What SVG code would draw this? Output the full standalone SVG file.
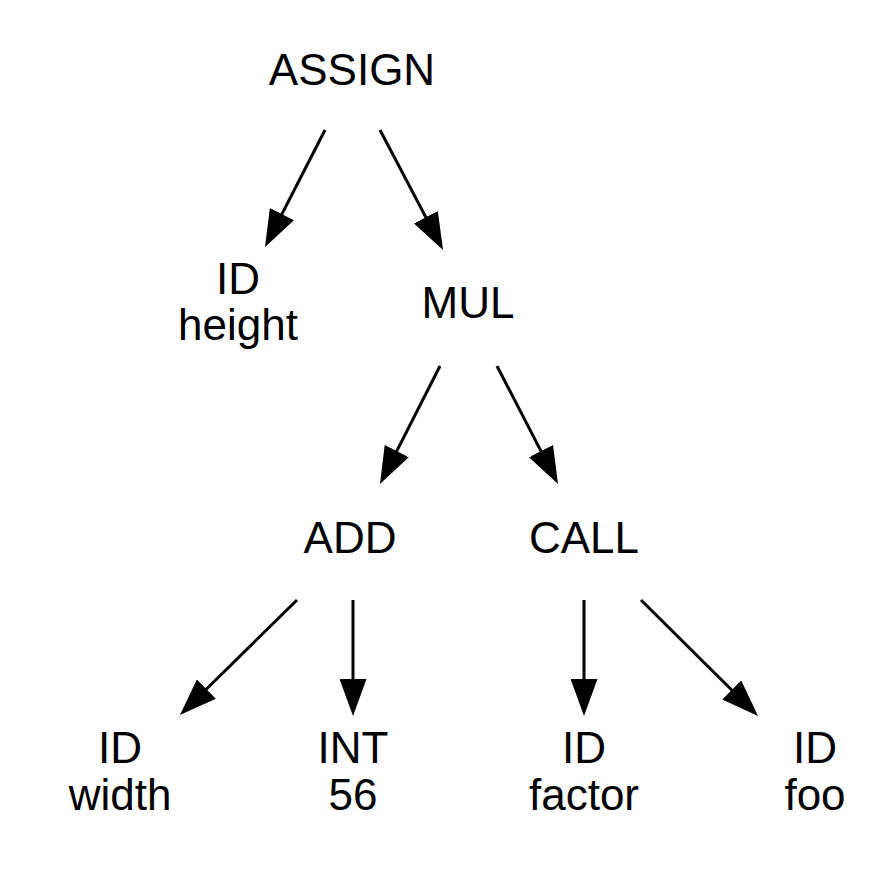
<svg xmlns="http://www.w3.org/2000/svg" width="886" height="876" viewBox="0 0 886 876">
<style>
text{font-family:"Liberation Sans",Arial,Helvetica,sans-serif;font-size:44px;fill:#000;text-anchor:middle}
.e{stroke:#000;stroke-width:3;fill:none;marker-end:url(#ah)}
</style>
<defs>
<marker id="ah" markerUnits="userSpaceOnUse" markerWidth="37" markerHeight="27" refX="27" refY="13.5" orient="auto" viewBox="0 0 37 27">
<path d="M0,0 L37,13.5 L0,27 z" fill="#000"/>
</marker>
</defs>
<rect width="886" height="876" fill="#fff"/>
<g id="connectors">
<path class="e" d="M325,130 L269.6,238.1"/>
<path class="e" d="M380,130 L438.4,241.1"/>
<path class="e" d="M440,366 L384.5,475.1"/>
<path class="e" d="M497,366 L553.4,475.1"/>
<path class="e" d="M297,600 L187.1,708"/>
<path class="e" d="M353,600 L353,706"/>
<path class="e" d="M584,600 L584,706"/>
<path class="e" d="M641,600 L750.9,709"/>
</g>
<g id="assign"><text x="352" y="85">ASSIGN</text></g>
<g id="id-height"><text x="238" y="294">ID</text><text x="238" y="340">height</text></g>
<g id="mul"><text x="468" y="318">MUL</text></g>
<g id="add"><text x="350" y="553">ADD</text></g>
<g id="call"><text x="584" y="553">CALL</text></g>
<g id="id-width"><text x="120" y="763">ID</text><text x="120" y="810">width</text></g>
<g id="int-56"><text x="353" y="763">INT</text><text x="353" y="810">56</text></g>
<g id="id-factor"><text x="584" y="763">ID</text><text x="584" y="810">factor</text></g>
<g id="id-foo"><text x="815" y="763">ID</text><text x="815" y="810">foo</text></g>
</svg>
